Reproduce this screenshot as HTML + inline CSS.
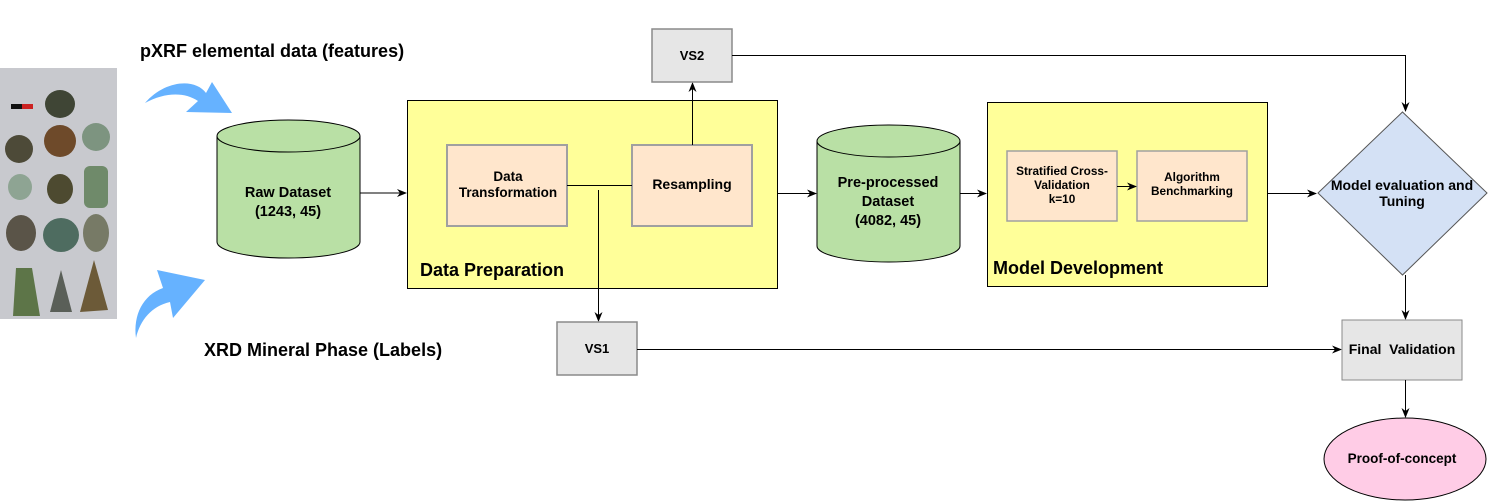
<!DOCTYPE html>
<html><head><meta charset="utf-8"><style>
html,body{margin:0;padding:0;background:#fff;}
svg{display:block;font-family:"Liberation Sans",Arial,sans-serif;font-weight:bold;}
</style></head><body>
<svg width="1488" height="502" viewBox="0 0 1488 502" xmlns="http://www.w3.org/2000/svg">
<defs>
<marker id="a" markerWidth="10" markerHeight="8" refX="9" refY="4" orient="auto" markerUnits="userSpaceOnUse">
<path d="M0,0 L10,4 L0,8 L3,4 z" fill="#000"/></marker>
</defs>
<!-- photo -->
<rect x="0" y="68" width="117" height="251" fill="#c8c9ce"/>
<rect x="11" y="104" width="22" height="5" fill="#111"/><rect x="22" y="104" width="11" height="5" fill="#c22"/>
<ellipse cx="60" cy="104" rx="15" ry="14" fill="#3f4535"/>
<ellipse cx="19" cy="149" rx="14" ry="14" fill="#4d4a38"/>
<ellipse cx="60" cy="141" rx="16" ry="16" fill="#6e4a2a"/>
<ellipse cx="96" cy="137" rx="14" ry="14" fill="#7d9480"/>
<ellipse cx="20" cy="187" rx="12" ry="13" fill="#8ea493"/>
<ellipse cx="60" cy="189" rx="13" ry="15" fill="#4d4a30"/>
<rect x="84" y="166" width="24" height="42" rx="6" fill="#6f8a6a"/>
<ellipse cx="21" cy="233" rx="15" ry="18" fill="#5a5448"/>
<ellipse cx="61" cy="235" rx="18" ry="17" fill="#4e6c60"/>
<ellipse cx="96" cy="233" rx="13" ry="19" fill="#777a66"/>
<path d="M16,268 L32,268 L40,316 L13,316 z" fill="#5d7548"/>
<path d="M61,270 L72,312 L50,312 z" fill="#5a5f58"/>
<path d="M94,260 L108,310 L80,312 z" fill="#6c5a38"/>
<!-- labels -->
<text x="140" y="57" font-size="18">pXRF elemental data (features)</text>
<text x="204" y="356" font-size="18">XRD Mineral Phase (Labels)</text>
<!-- blue arrows -->
<path d="M145,103 C165,80 195,78 206,93 L212,82 L232,113 L186,112 L198,101 C185,92 165,92 145,103 z" fill="#66b2ff"/>
<path d="M136,338 C133,315 143,295 163,288 L157,270 L205,280 L173,318 L170,302 C152,306 140,320 136,338 z" fill="#66b2ff"/>
<!-- Raw dataset cylinder -->
<path d="M217,136 L217,242 A71.5,16 0 0 0 360,242 L360,136" fill="#b9e0a5" stroke="#000" stroke-width="1"/>
<ellipse cx="288.5" cy="136" rx="71.5" ry="16" fill="#b9e0a5" stroke="#000"/>
<text x="288" y="197" font-size="14.5" text-anchor="middle">Raw Dataset</text>
<text x="288" y="216" font-size="14.5" text-anchor="middle">(1243, 45)</text>
<line x1="360" y1="193" x2="406" y2="193" stroke="#000" marker-end="url(#a)"/>
<!-- Data preparation -->
<rect x="407.5" y="100.5" width="370" height="188" fill="#ffff99" stroke="#000"/>
<rect x="447" y="145" width="120" height="81" fill="#ffe6cc" stroke="#a0a0a0" stroke-width="2"/>
<rect x="632" y="145" width="120" height="81" fill="#ffe6cc" stroke="#a0a0a0" stroke-width="2"/>
<text x="508" y="181" font-size="13.5" text-anchor="middle">Data</text>
<text x="508" y="197" font-size="13.5" text-anchor="middle">Transformation</text>
<text x="692" y="189" font-size="14" text-anchor="middle">Resampling</text>
<text x="420" y="276" font-size="18">Data Preparation</text>
<line x1="567" y1="185.5" x2="632" y2="185.5" stroke="#000"/>
<line x1="598.5" y1="190" x2="598.5" y2="321" stroke="#000" marker-end="url(#a)"/>
<line x1="692.5" y1="145" x2="692.5" y2="83" stroke="#000" marker-end="url(#a)"/>
<!-- VS2 / VS1 -->
<rect x="652" y="29" width="80" height="53" fill="#e6e6e6" stroke="#8a8a8a" stroke-width="1.5"/>
<text x="692" y="60" font-size="13" text-anchor="middle">VS2</text>
<rect x="557" y="322" width="80" height="53" fill="#e6e6e6" stroke="#8a8a8a" stroke-width="1.5"/>
<text x="597" y="353" font-size="13" text-anchor="middle">VS1</text>
<polyline points="732,55.5 1405.5,55.5 1405.5,111" fill="none" stroke="#000" marker-end="url(#a)"/>
<line x1="637" y1="349.5" x2="1341" y2="349.5" stroke="#000" marker-end="url(#a)"/>
<line x1="777" y1="193.5" x2="816" y2="193.5" stroke="#000" marker-end="url(#a)"/>
<!-- Pre-processed cylinder -->
<path d="M817,141 L817,246 A71.5,16 0 0 0 960,246 L960,141" fill="#b9e0a5" stroke="#000"/>
<ellipse cx="888.5" cy="141" rx="71.5" ry="16" fill="#b9e0a5" stroke="#000"/>
<text x="888" y="187" font-size="14.5" text-anchor="middle">Pre-processed</text>
<text x="888" y="206" font-size="14.5" text-anchor="middle">Dataset</text>
<text x="888" y="225" font-size="14.5" text-anchor="middle">(4082, 45)</text>
<line x1="960" y1="193.5" x2="986" y2="193.5" stroke="#000" marker-end="url(#a)"/>
<!-- Model development -->
<rect x="987.5" y="102.5" width="280" height="184" fill="#ffff99" stroke="#000"/>
<rect x="1007" y="151" width="110" height="70" fill="#ffe6cc" stroke="#a0a0a0" stroke-width="1.5"/>
<rect x="1137" y="151" width="110" height="70" fill="#ffe6cc" stroke="#a0a0a0" stroke-width="1.5"/>
<text x="1062" y="175" font-size="11.8" text-anchor="middle">Stratified Cross-</text>
<text x="1062" y="189" font-size="11.8" text-anchor="middle">Validation</text>
<text x="1062" y="203" font-size="11.8" text-anchor="middle">k=10</text>
<text x="1192" y="181" font-size="11.8" text-anchor="middle">Algorithm</text>
<text x="1192" y="195" font-size="11.8" text-anchor="middle">Benchmarking</text>
<line x1="1117" y1="186.5" x2="1136" y2="186.5" stroke="#000" marker-end="url(#a)"/>
<text x="993" y="274" font-size="18">Model Development</text>
<line x1="1267" y1="193.5" x2="1316" y2="193.5" stroke="#000" marker-end="url(#a)"/>
<!-- diamond -->
<polygon points="1402.5,112 1487,193 1402.5,275 1318,193" fill="#d4e1f5" stroke="#555"/>
<text x="1402" y="190" font-size="14" text-anchor="middle">Model evaluation and</text>
<text x="1402" y="206" font-size="14" text-anchor="middle">Tuning</text>
<line x1="1405.5" y1="275" x2="1405.5" y2="319" stroke="#000" marker-end="url(#a)"/>
<rect x="1342" y="320" width="120" height="60" fill="#e6e6e6" stroke="#8a8a8a" stroke-width="1"/>
<text x="1402" y="354" font-size="14" text-anchor="middle" xml:space="preserve">Final  Validation</text>
<line x1="1405.5" y1="380" x2="1405.5" y2="417" stroke="#000" marker-end="url(#a)"/>
<ellipse cx="1405" cy="459" rx="81" ry="41" fill="#ffcce6" stroke="#000"/>
<text x="1402" y="463" font-size="13.5" text-anchor="middle">Proof-of-concept</text>
</svg>
</body></html>
